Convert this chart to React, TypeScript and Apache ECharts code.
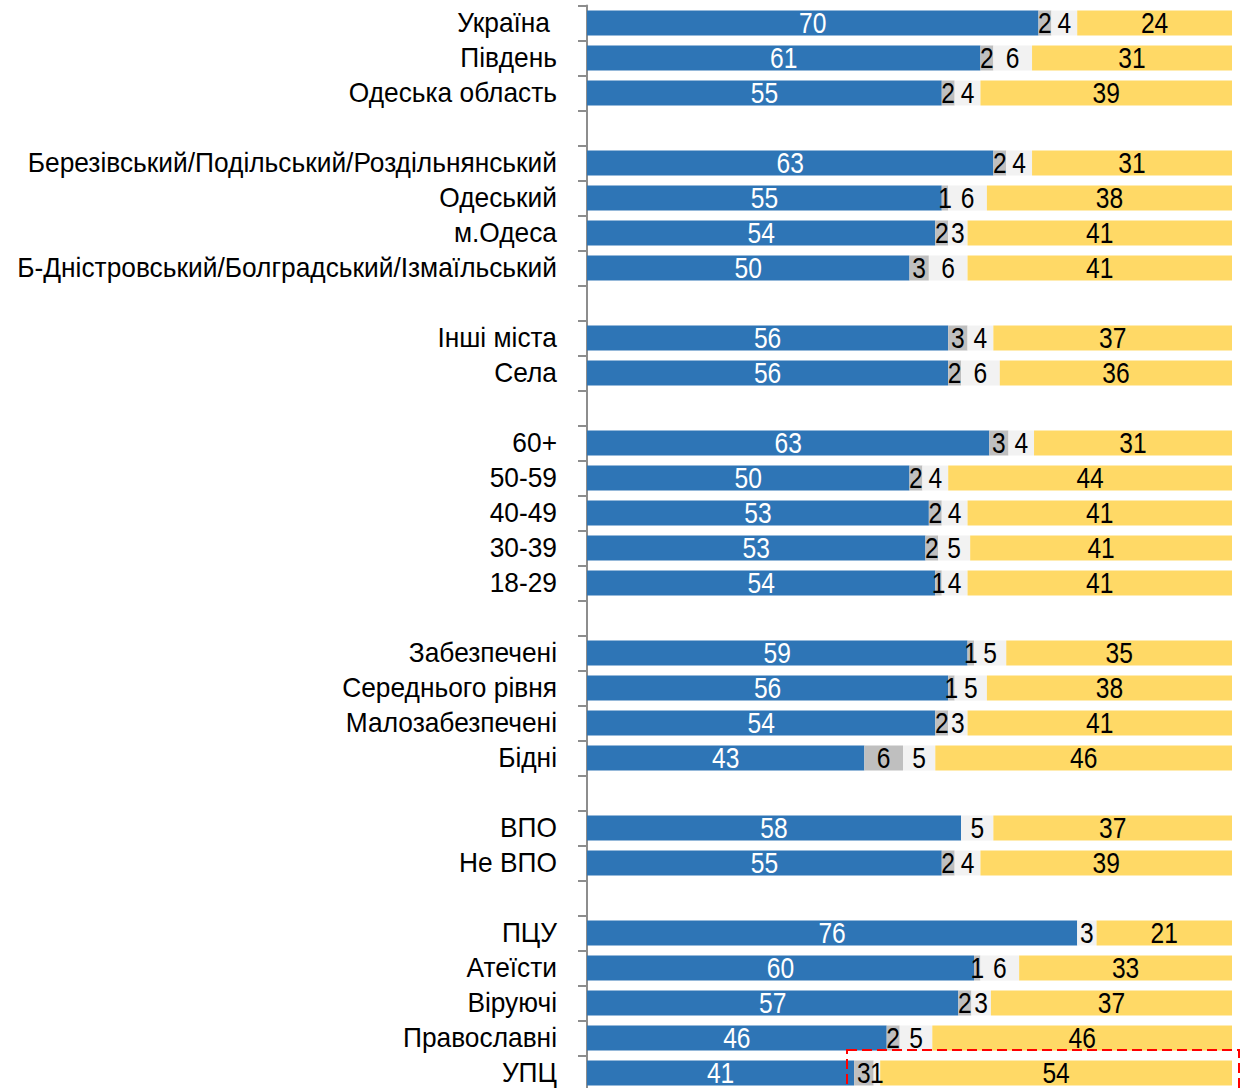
import React, { useEffect, useRef } from "react";
import * as echarts from "echarts";

const categories = [
  "Україна", "Південь", "Одеська область", "gap1",
  "Березівський/Подільський/Роздільнянський", "Одеський", "м.Одеса", "Б-Дністровський/Болградський/Ізмаїльський", "gap2",
  "Інші міста", "Села", "gap3",
  "60+", "50-59", "40-49", "30-39", "18-29", "gap4",
  "Забезпечені", "Середнього рівня", "Малозабезпечені", "Бідні", "gap5",
  "ВПО", "Не ВПО", "gap6",
  "ПЦУ", "Атеїсти", "Віруючі", "Православні", "УПЦ",
];

const blueValues = [70, 61, 55, null, 63, 55, 54, 50, null, 56, 56, null, 63, 50, 53, 53, 54, null, 59, 56, 54, 43, null, 58, 55, null, 76, 60, 57, 46, 41];
const grayValues = [2, 2, 2, null, 2, 1, 2, 3, null, 3, 2, null, 3, 2, 2, 2, 1, null, 1, 1, 2, 6, null, 0, 2, null, 0, 1, 2, 2, 3];
const lightValues = [4, 6, 4, null, 4, 6, 3, 6, null, 4, 6, null, 4, 4, 4, 5, 4, null, 5, 5, 3, 5, null, 5, 4, null, 3, 6, 3, 5, 1];
const yellowValues = [24, 31, 39, null, 31, 38, 41, 41, null, 37, 36, null, 31, 44, 41, 41, 41, null, 35, 38, 41, 46, null, 37, 39, null, 21, 33, 37, 46, 54];

const FONT = "'Liberation Sans', Arial, sans-serif";
const VALUE_NARROW = 0.82;
const CAT_NARROW = 0.975;

export default function App() {
  const ref = useRef<HTMLDivElement>(null);
  useEffect(() => {
    if (!ref.current) return;
    const chart = echarts.init(ref.current, null, { renderer: "svg" });
    const rows = [blueValues, grayValues, lightValues, yellowValues];
    const sums = categories.map((_, i) =>
      rows.reduce((s, r) => s + (r[i] == null ? 0 : (r[i] as number)), 0)
    );
    const normRows = rows.map((arr) =>
      arr.map((v, i) => (v == null ? null : (v * 100) / sums[i]))
    );
    const colors = ["#2E75B6", "#BFBFBF", "#F2F2F2", "#FFD966"];
    const labelColors = ["#ffffff", "#000000", "#000000", "#000000"];
    const names = ["blue", "gray", "light", "yellow"];
    const series = normRows.map((arr, k) => ({
      name: names[k],
      type: "bar",
      stack: "total",
      barWidth: 25,
      data: arr,
      itemStyle: { color: colors[k] },
      label: { show: false },
    }));
    chart.setOption({
      animation: false,
      grid: { left: 587, right: 16, top: 5.5, height: 1085, containLabel: false, outerBoundsMode: "none" },
      xAxis: { type: "value", min: 0, max: 100, show: false },
      yAxis: {
        type: "category",
        inverse: true,
        data: categories,
        axisLine: { show: true, lineStyle: { color: "#8d8d8d", width: 2 } },
        axisTick: { show: true, length: 9, lineStyle: { color: "#8d8d8d", width: 2 } },
        axisLabel: { show: false },
        splitLine: { show: false },
      },
      series,
    });

    const graphics: any[] = [];
    const axisX = chart.convertToPixel({ xAxisIndex: 0 }, 0) as number;
    categories.forEach((cat, i) => {
      if (cat.startsWith("gap")) return;
      const py = chart.convertToPixel({ yAxisIndex: 0 }, cat) as number;
      graphics.push({
        type: "text",
        x: axisX - 30 - (cat === "Україна" ? 7 : 0),
        y: py,
        scaleX: CAT_NARROW,
        z: 100,
        style: {
          text: cat,
          fill: "#000",
          fontFamily: FONT,
          fontSize: 27,
          textAlign: "right",
          align: "right",
          textVerticalAlign: "middle",
          verticalAlign: "middle",
        },
      });
      let cum = 0;
      rows.forEach((arr, k) => {
        const raw = arr[i] as number;
        const nv = normRows[k][i] as number;
        if (raw && raw > 0) {
          const cx = chart.convertToPixel({ xAxisIndex: 0 }, cum + nv / 2) as number;
          graphics.push({
            type: "text",
            x: cx,
            y: py,
            scaleX: VALUE_NARROW,
            z: 100,
            style: {
              text: String(raw),
              fill: labelColors[k],
              fontFamily: FONT,
              fontSize: 30,
              textAlign: "center",
              align: "center",
              textVerticalAlign: "middle",
              verticalAlign: "middle",
            },
          });
        }
        cum += nv || 0;
      });
    });
    graphics.push({
      type: "rect",
      shape: { x: 847, y: 1050, width: 392, height: 60 },
      style: { fill: "none", stroke: "#FF0000", lineWidth: 2, lineDash: [10, 5] },
      z: 110,
    });
    chart.setOption({ graphic: graphics });
    return () => chart.dispose();
  }, []);
  return (
    <div
      ref={ref}
      style={{ position: "absolute", left: 0, top: 0, width: 1248, height: 1100 }}
    />
  );
}
